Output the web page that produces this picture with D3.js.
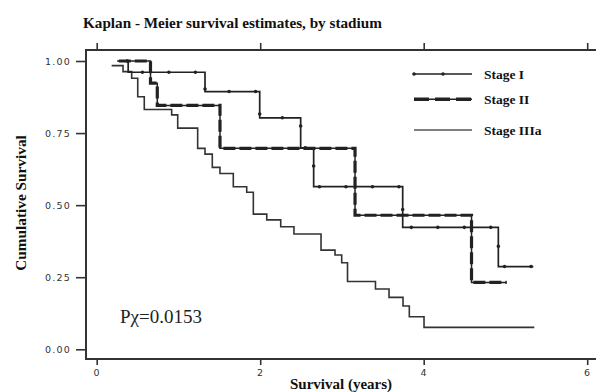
<!DOCTYPE html>
<html><head><meta charset="utf-8">
<script src="https://cdn.jsdelivr.net/npm/d3@7"></script>
<style>
html,body{margin:0;padding:0;background:#fff;}
svg{display:block;}
.tick text{font-family:"DejaVu Sans",sans-serif;font-size:9.5px;fill:#333;letter-spacing:1.2px;}
</style></head>
<body>
<svg id="chart" width="596" height="392"></svg>
<script>
// ---- data ----
const title = "Kaplan - Meier survival estimates, by stadium";
const xTicks = [0, 2, 4, 6];
const yTicks = [0, 0.25, 0.5, 0.75, 1];
const seriesNames = ["Stage I", "Stage II", "Stage IIIa"];

const stageI_t = [0.25, 0.385, 1.325, 1.994, 2.495, 2.654, 3.743, 4.913, 5.341];
const stageI_s = [1.0, 0.961, 0.894, 0.803, 0.699, 0.564, 0.423, 0.287, 0.287];

const stageII_t = [0.27, 0.658, 0.741, 1.508, 3.160, 4.585, 5.015];
const stageII_s = [1.0, 0.923, 0.846, 0.697, 0.465, 0.232, 0.232];

const stageIII_t = [0.183, 0.322, 0.428, 0.502, 0.582, 0.917, 0.991, 1.235, 1.325, 1.414, 1.508, 1.671, 1.835, 1.916, 2.080, 2.251, 2.413, 2.744, 2.915, 2.997, 3.068, 3.410, 3.576, 3.747, 3.824, 4.004, 5.353];
const stageIII_s = [0.984, 0.963, 0.940, 0.876, 0.832, 0.813, 0.767, 0.697, 0.677, 0.631, 0.610, 0.564, 0.545, 0.469, 0.449, 0.425, 0.400, 0.344, 0.327, 0.300, 0.235, 0.209, 0.180, 0.150, 0.113, 0.076, 0.076];

const pText = "P\u03C7=0.0153";

// ---- layout ----
const svg = d3.select("#chart");
const frame = {left: 86, top: 50, right: 596, bottom: 359};
const x = d3.scaleLinear().domain([0, 6]).range([96.7, 587.2]);
const y = d3.scaleLinear().domain([0, 1]).range([349.3, 61]);
const ink = "#222";
const serif = "Liberation Serif, serif";

// title
svg.append("text").attr("x", 83).attr("y", 28)
  .attr("font-family", serif).attr("font-weight", "bold")
  .attr("font-size", 15.2).attr("fill", "#111").text(title);

// frame lines
const fr = svg.append("g").attr("stroke", "#333").attr("stroke-width", 2).attr("fill", "none");
fr.append("line").attr("x1", frame.left).attr("x2", frame.left).attr("y1", frame.top - 1).attr("y2", frame.bottom + 1);
fr.append("line").attr("x1", frame.left).attr("x2", frame.right).attr("y1", frame.top).attr("y2", frame.top);
fr.append("line").attr("x1", frame.left).attr("x2", frame.right).attr("y1", frame.bottom).attr("y2", frame.bottom);

// axes
const yAxis = svg.append("g").attr("transform", `translate(${frame.left - 1},0)`)
  .call(d3.axisLeft(y).tickValues(yTicks).tickFormat(d3.format(".2f")).tickSize(9).tickPadding(5));
const xAxis = svg.append("g").attr("transform", `translate(0,${frame.bottom})`)
  .call(d3.axisBottom(x).tickValues(xTicks).tickFormat(d3.format("d")).tickSize(6).tickPadding(4));
const xTop = svg.append("g").attr("transform", `translate(0,${frame.top})`)
  .call(d3.axisTop(x).tickValues(xTicks).tickFormat("").tickSize(7));
[yAxis, xAxis, xTop].forEach(g => {
  g.select(".domain").remove();
  g.selectAll(".tick line").attr("stroke", "#333").attr("stroke-width", 1.6);
});

// axis titles
svg.append("text").attr("x", 341).attr("y", 389).attr("text-anchor", "middle")
  .attr("font-family", serif).attr("font-weight", "bold")
  .attr("font-size", 15).attr("fill", "#111").text("Survival (years)");
svg.append("text").attr("transform", "translate(26,203) rotate(-90)").attr("text-anchor", "middle")
  .attr("font-family", serif).attr("font-weight", "bold")
  .attr("font-size", 15.3).attr("fill", "#111").text("Cumulative Survival");

// curves
const line = d3.line().x(d => x(d[0])).y(d => y(d[1])).curve(d3.curveStepAfter);
const zip = (t, s) => t.map((v, i) => [v, s[i]]);
const dI = zip(stageI_t, stageI_s), dII = zip(stageII_t, stageII_s), dIII = zip(stageIII_t, stageIII_s);

const g = svg.append("g").attr("fill", "none");
// Stage IIIa thin solid
g.append("path").attr("d", line(dIII)).attr("stroke", "#333").attr("stroke-width", 1.6);
// Stage II thick dashed
g.append("path").attr("d", line(dII)).attr("stroke", ink).attr("stroke-width", 1.5);
g.append("path").attr("d", line(dII)).attr("stroke", ink).attr("stroke-width", 3.2).attr("stroke-dasharray", "12,4");
// Stage I solid with dots
g.append("path").attr("d", line(dI)).attr("stroke", ink).attr("stroke-width", 1.7);
g.append("path").attr("d", line(dI)).attr("stroke", ink).attr("stroke-width", 3.6)
  .attr("stroke-linecap", "round").attr("stroke-dasharray", "0,26.5").attr("stroke-dashoffset", -10);

// legend
const lg = svg.append("g");
const legY = [74, 99.3, 130];
const lx1 = 414, lx2 = 472;
lg.append("line").attr("x1", lx1).attr("x2", lx2).attr("y1", legY[0]).attr("y2", legY[0]).attr("stroke", ink).attr("stroke-width", 1.5);
lg.append("line").attr("x1", lx1).attr("x2", lx2).attr("y1", legY[0]).attr("y2", legY[0]).attr("stroke", ink)
  .attr("stroke-width", 3.6).attr("stroke-linecap", "round").attr("stroke-dasharray", "0,29");
lg.append("line").attr("x1", lx1).attr("x2", lx2).attr("y1", legY[1]).attr("y2", legY[1]).attr("stroke", ink).attr("stroke-width", 1.5);
lg.append("line").attr("x1", lx1).attr("x2", lx2).attr("y1", legY[1]).attr("y2", legY[1]).attr("stroke", ink)
  .attr("stroke-width", 3.4).attr("stroke-dasharray", "15,6");
lg.append("line").attr("x1", lx1).attr("x2", lx2).attr("y1", legY[2]).attr("y2", legY[2]).attr("stroke", "#555").attr("stroke-width", 1.6);
seriesNames.forEach((n, i) => {
  lg.append("text").attr("x", 484).attr("y", legY[i] + 4.5)
    .attr("font-family", serif).attr("font-weight", "bold")
    .attr("font-size", 13.5).attr("fill", "#111").text(n);
});

// p-value
svg.append("text").attr("x", 120).attr("y", 323)
  .attr("font-family", serif).attr("font-size", 19).attr("fill", "#222").text(pText);
</script>
</body></html>
